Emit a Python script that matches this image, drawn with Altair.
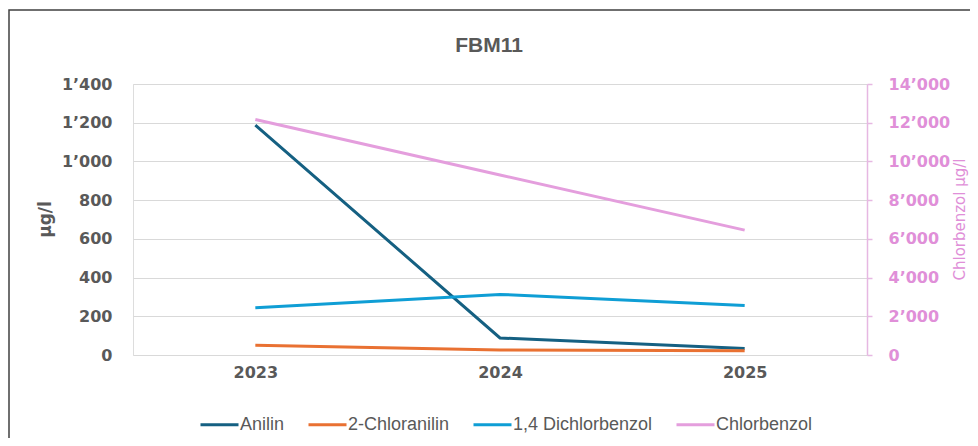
import altair as alt
import pandas as pd

# ---- data ----
chart_title = "FBM11"
years = ["2023", "2024", "2025"]
series_left = ["Anilin", "2-Chloranilin", "1,4 Dichlorbenzol"]
anilin = [1188, 88, 34]
chloranilin = [50, 26, 22]
dichlorbenzol = [244, 313, 256]
series_right = "Chlorbenzol"
chlorbenzol = [12170, 9300, 6450]

names = ["Anilin", "2-Chloranilin", "1,4 Dichlorbenzol", "Chlorbenzol"]
colors = ["#156082", "#E97132", "#0F9ED5", "#E49EDD"]
left_ticks = [0, 200, 400, 600, 800, 1000, 1200, 1400]
right_ticks = [0, 2000, 4000, 6000, 8000, 10000, 12000, 14000]

GRAY = "#595959"
PINK = "#E08FD8"

rows = []
for name, vals in zip(series_left, [anilin, chloranilin, dichlorbenzol]):
    for y, v in zip(years, vals):
        rows.append({"year": y, "series": name, "value": v})
left_df = pd.DataFrame(rows)
right_df = pd.DataFrame({"year": years, "series": series_right, "value": chlorbenzol})

thousands = "replace(format(datum.value, ','), ',', '\u2019')"

color = alt.Color(
    "series:N",
    scale=alt.Scale(domain=names, range=colors),
    legend=alt.Legend(
        title=None,
        orient="none",
        direction="horizontal",
        legendX=66,
        legendY=320,
        symbolType="stroke",
        symbolSize=1444,
        symbolStrokeWidth=3,
        labelOffset=0,
        columnPadding=17,
        labelFont="Liberation Sans",
        labelFontSize=18,
        labelColor=GRAY,
    ),
)

x = alt.X(
    "year:N",
    sort=years,
    scale=alt.Scale(type="point", padding=0.5),
    axis=alt.Axis(
        title=None,
        domain=False,
        ticks=False,
        tickSize=0,
        labelPadding=9,
        labelAngle=0,
        labelFont="DejaVu Sans",
        labelFontWeight="bold",
        labelFontSize=16,
        labelColor=GRAY,
        grid=False,
    ),
)

left = alt.Chart(left_df).mark_line(strokeWidth=3).encode(
    x=x,
    y=alt.Y(
        "value:Q",
        scale=alt.Scale(domain=[0, 1400], nice=False),
        axis=alt.Axis(
            orient="left",
            title="\u03bcg/l",
            values=left_ticks,
            labelExpr=thousands,
            domain=False,
            ticks=False,
            tickSize=0,
            labelPadding=21,
            labelFont="DejaVu Sans",
            labelFontWeight="bold",
            labelFontSize=16,
            labelColor=GRAY,
            grid=True,
            gridColor="#D9D9D9",
            gridWidth=1,
            titleFont="DejaVu Sans",
            titleFontWeight="bold",
            titleFontSize=17,
            titleColor=GRAY,
            titleX=-88,
            titleY=135,
            titleAngle=-90,
            titleAlign="center",
            titleBaseline="middle",
        ),
    ),
    color=color,
)

right = alt.Chart(right_df).mark_line(strokeWidth=3).encode(
    x=x,
    y=alt.Y(
        "value:Q",
        scale=alt.Scale(domain=[0, 14000], nice=False),
        axis=alt.Axis(
            orient="right",
            title="Chlorbenzol \u03bcg/l",
            values=right_ticks,
            labelExpr=thousands,
            domain=True,
            domainColor="#E6B8E2",
            domainWidth=1.5,
            ticks=True,
            tickColor="#E6B8E2",
            tickSize=5,
            tickWidth=1.5,
            labelPadding=16,
            labelFont="DejaVu Sans",
            labelFontWeight="bold",
            labelFontSize=16,
            labelColor=PINK,
            grid=False,
            titleFont="DejaVu Sans",
            titleFontWeight="normal",
            titleFontSize=15,
            titleColor=PINK,
            titleX=92,
            titleY=135,
            titleAngle=-90,
            titleAlign="center",
            titleBaseline="middle",
        ),
    ),
    color=color,
)

frame = alt.Chart(pd.DataFrame({"f": [0]})).mark_rect(
    fillOpacity=0, stroke="#404040", strokeWidth=1.5
).encode(
    x=alt.value(-124),
    x2=alt.value(900),
    y=alt.value(-74),
    y2=alt.value(500),
)

title = alt.Chart(pd.DataFrame({"t": [chart_title]})).mark_text(
    font="Liberation Sans Narrow, Liberation Sans",
    fontWeight="bold",
    fontSize=21,
    color=GRAY,
    align="center",
    baseline="middle",
).encode(
    text="t:N",
    x=alt.value(356),
    y=alt.value(-38),
)

chart = (
    alt.layer(frame, left, right, title)
    .resolve_scale(y="independent")
    .properties(
        width=734,
        height=271,
        autosize=alt.AutoSizeParams(type="none"),
        padding={"left": 125, "top": 76, "right": 103, "bottom": 83},
    )
    .configure_view(stroke=None)
    .configure(background="white")
)

chart.save("out.html", embed_options={"renderer": "svg", "actions": False})
